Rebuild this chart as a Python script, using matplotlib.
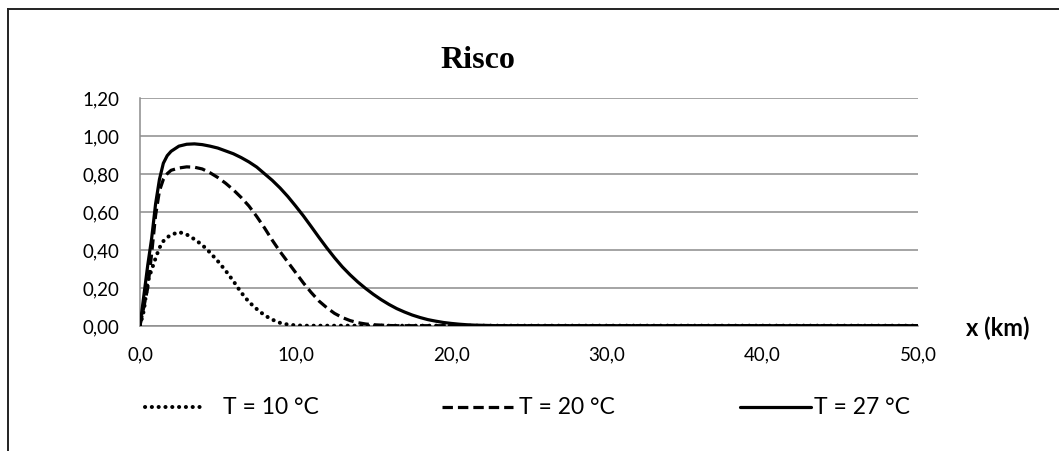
import matplotlib
matplotlib.use("Agg")
import matplotlib.pyplot as plt
from matplotlib.lines import Line2D

# Distance along the plume (km)
x_km = [0, 0.25, 0.5, 0.75, 1.0, 1.25, 1.5, 1.75,
        2.0, 2.5, 3.0, 3.5, 4.0, 4.5, 5.0, 5.5, 6.0, 6.5, 7.0, 7.5,
        8.0, 8.5, 9.0, 9.5, 10.0, 10.5, 11.0, 11.5, 12.0, 12.5, 13.0,
        13.5, 14.0, 14.5, 15.0, 15.5, 16.0, 16.5, 17.0, 17.5, 18.0,
        18.5, 19.0, 19.5, 20.0, 20.5, 21.0, 21.5, 22.0, 22.5, 23.0,
        25.0, 30.0, 35.0, 40.0, 45.0, 50.0]

# Risk for T = 10 °C
risk_10 = [0, 0.08, 0.235, 0.295, 0.355, 0.41, 0.445, 0.465,
           0.478, 0.493, 0.48, 0.455, 0.425, 0.385, 0.34, 0.29, 0.235, 0.175,
           0.125, 0.088, 0.055, 0.032, 0.015, 0.006, 0.002,
           0, 0, 0, 0, 0, 0, 0, 0, 0, 0, 0, 0, 0, 0, 0, 0, 0, 0, 0, 0, 0,
           0, 0, 0, 0, 0,
           0, 0, 0, 0, 0, 0]

# Risk for T = 20 °C
risk_20 = [0, 0.10, 0.20, 0.38, 0.58, 0.71, 0.77, 0.80,
           0.818, 0.83, 0.836, 0.834, 0.825, 0.805, 0.78, 0.75, 0.715, 0.675,
           0.63, 0.575, 0.515, 0.45, 0.39, 0.335, 0.28, 0.225, 0.175, 0.13,
           0.095, 0.065, 0.043, 0.027, 0.016, 0.009, 0.005, 0.003, 0.001,
           0, 0, 0, 0, 0, 0, 0, 0, 0, 0, 0, 0, 0, 0,
           0, 0, 0, 0, 0, 0]

# Risk for T = 27 °C
risk_27 = [0, 0.16, 0.32, 0.46, 0.64, 0.77, 0.855, 0.895,
           0.918, 0.945, 0.955, 0.957, 0.953, 0.945, 0.935, 0.92, 0.905, 0.885,
           0.862, 0.835, 0.80, 0.765, 0.725, 0.68, 0.63, 0.578, 0.522, 0.465,
           0.41, 0.358, 0.31, 0.268, 0.23, 0.196, 0.165, 0.137, 0.112, 0.09,
           0.072, 0.056, 0.043, 0.032, 0.024, 0.017, 0.012, 0.008, 0.005,
           0.003, 0.002, 0.001, 0,
           0, 0, 0, 0, 0, 0]

series_labels = ["T = 10 °C", "T = 20 °C", "T = 27 °C"]
x_ticks = [0, 10, 20, 30, 40, 50]
y_ticks = [0, 0.2, 0.4, 0.6, 0.8, 1.0, 1.2]

plt.rcParams["lines.scale_dashes"] = False
SANS = "Lato"
W, H = 1059, 452
fig = plt.figure(figsize=(W / 100, H / 100), dpi=100)


def fx(px):
    return px / W


def fy(py):
    return 1 - py / H


ax = fig.add_axes([fx(140), fy(326.7), fx(918) - fx(140), fy(98.7) - fy(326.7)])

styles = [
    dict(lw=2.9, linestyle=(0, (0.1, 4.8)), dash_capstyle="round"),
    dict(lw=2.3, linestyle=(0, (7.5, 3.6)), dash_capstyle="butt"),
    dict(lw=2.3, linestyle="-", solid_capstyle="round"),
]
for ys, st in zip([risk_10, risk_20, risk_27], styles):
    ax.plot(x_km, ys, color="black", **st, zorder=3)

ax.set_xlim(0, 50)
ax.set_ylim(0, 1.2)
ax.set_xticks(x_ticks)
ax.set_yticks(y_ticks)
ax.set_xticklabels([f"{v:.1f}".replace(".", ",") for v in x_ticks],
                   fontfamily=SANS, fontsize=13.5)
ax.set_yticklabels([f"{v:.2f}".replace(".", ",") for v in y_ticks],
                   fontfamily=SANS, fontsize=13.5)
ax.tick_params(axis="both", length=0)
ax.tick_params(axis="y", pad=15)
ax.tick_params(axis="x", pad=14)

ax.grid(axis="y", color="#8c8c8c", lw=1.1)
ax.set_axisbelow(True)
for side in ("top", "right"):
    ax.spines[side].set_visible(False)
for side in ("left", "bottom"):
    ax.spines[side].set_color("#8c8c8c")
    ax.spines[side].set_linewidth(1.1)

# Title and axis caption
fig.text(fx(478), fy(61), "Risco", ha="center", va="center",
         fontfamily="Liberation Serif", fontweight="bold", fontsize=23)
fig.text(fx(998), fy(328), "x (km)", ha="center", va="center",
         fontfamily=SANS, fontweight="bold", fontsize=17)

# Legend below the plot
leg_y = fy(408)
leg_entries = [(145, 200, 223), (442, 513, 519), (740, 811, 814)]
for (x0, x1, xt), st, lab in zip(leg_entries, styles, series_labels):
    fig.add_artist(Line2D([fx(x0), fx(x1)], [leg_y, leg_y], color="black",
                          transform=fig.transFigure, **st))
    fig.text(fx(xt), leg_y, lab, ha="left", va="center",
             fontfamily=SANS, fontsize=16.5)

# Chart frame
fig.add_artist(Line2D([fx(8), fx(8)], [fy(10), 0], color="#222222", lw=1.4,
                      transform=fig.transFigure))
fig.add_artist(Line2D([fx(8), 1], [fy(10), fy(10)], color="#222222", lw=1.4,
                      transform=fig.transFigure))

fig.savefig("out.png", dpi=100)
